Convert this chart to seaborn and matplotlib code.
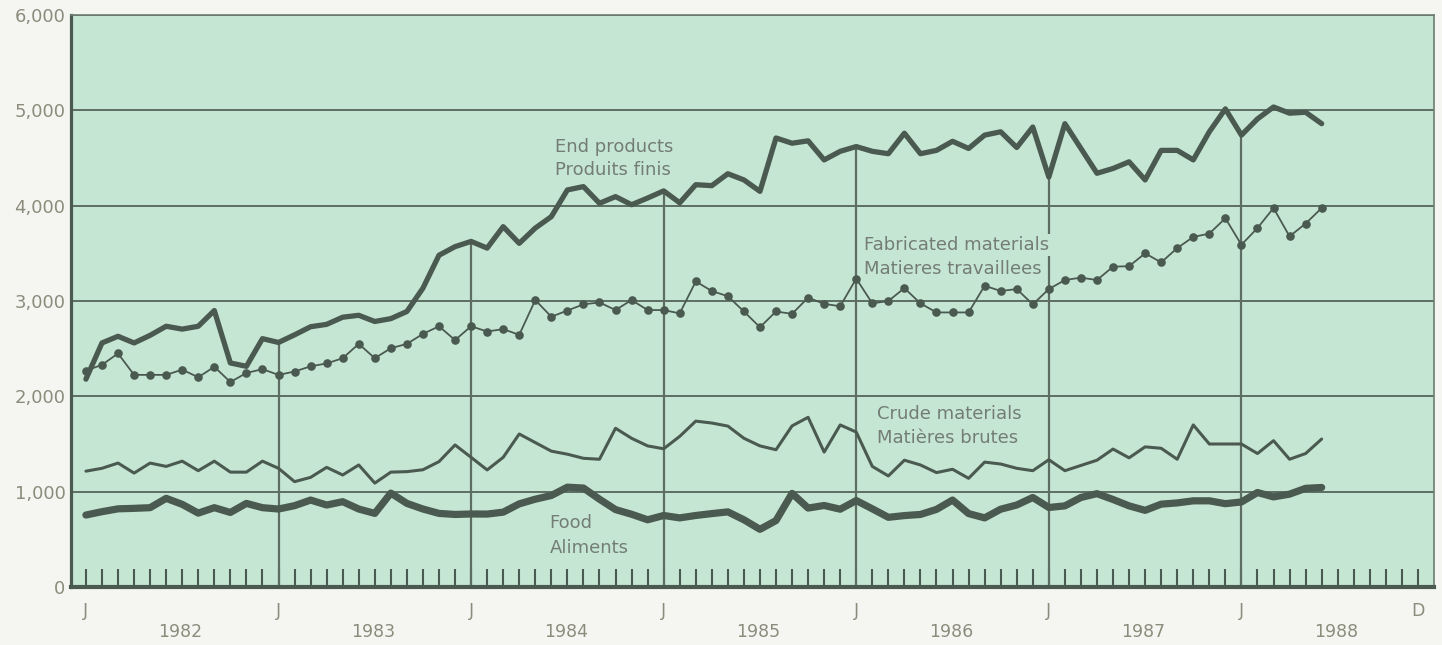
import numpy as np
import pandas as pd
import matplotlib
matplotlib.use("Agg")
import matplotlib.pyplot as plt
import seaborn as sns

# ---------------- data (monthly, Jan 1982 .. Jun 1988) ----------------
end_products = [2180, 2560, 2630, 2560, 2640, 2735, 2705, 2735, 2900, 2350, 2315, 2605,
                2565, 2645, 2730, 2755, 2830, 2850, 2785, 2815, 2890, 3135, 3480, 3570,
                3625, 3555, 3780, 3605, 3765, 3885, 4165, 4200, 4025, 4095, 4010, 4080,
                4155, 4030, 4220, 4210, 4335, 4270, 4150, 4710, 4655, 4680, 4480, 4570,
                4620, 4570, 4545, 4760, 4545, 4580, 4675, 4600, 4740, 4775, 4610, 4825,
                4300, 4860, 4600, 4340, 4390, 4460, 4270, 4580, 4580, 4480, 4775, 5015,
                4740, 4910, 5035, 4970, 4980, 4860]
fabricated = [2270, 2330, 2450, 2225, 2225, 2225, 2280, 2200, 2310, 2150, 2245, 2285,
              2225, 2260, 2315, 2345, 2400, 2550, 2400, 2505, 2550, 2655, 2735, 2590,
              2735, 2680, 2705, 2645, 3010, 2835, 2900, 2965, 2985, 2905, 3010, 2905,
              2905, 2870, 3205, 3105, 3050, 2890, 2725, 2890, 2865, 3035, 2970, 2945,
              3235, 2975, 3000, 3135, 2975, 2880, 2880, 2880, 3160, 3105, 3125, 2965,
              3125, 3220, 3245, 3220, 3360, 3365, 3500, 3405, 3555, 3672, 3707, 3868,
              3590, 3765, 3975, 3678, 3812, 3975]
crude = [1215, 1245, 1300, 1195, 1300, 1265, 1320, 1220, 1320, 1205, 1205, 1320,
         1245, 1105, 1150, 1255, 1175, 1280, 1090, 1205, 1210, 1230, 1315, 1490,
         1360, 1228, 1360, 1605, 1515, 1425, 1393, 1350, 1340, 1665, 1560, 1480,
         1450, 1580, 1740, 1720, 1688, 1560, 1480, 1440, 1690, 1780, 1415, 1700,
         1625, 1265, 1165, 1330, 1280, 1200, 1235, 1140, 1310, 1290, 1245, 1220,
         1335, 1220, 1275, 1330, 1447, 1355, 1470, 1455, 1340, 1700, 1500, 1500,
         1500, 1400, 1535, 1340, 1400, 1552]
food = [755, 790, 820, 825, 832, 930, 867, 775, 832, 782, 877, 832,
        818, 853, 912, 860, 895, 818, 772, 985, 877, 818, 772, 761,
        766, 765, 785, 872, 921, 960, 1047, 1038, 921, 812, 763, 705,
        750, 725, 750, 770, 788, 705, 605, 697, 982, 828, 855, 816,
        907, 820, 731, 749, 761, 814, 912, 770, 725, 816, 860, 939,
        834, 851, 939, 979, 918, 851, 804, 869, 882, 904, 904, 874,
        892, 991, 945, 974, 1035, 1044]

years = ["1982", "1983", "1984", "1985", "1986", "1987", "1988"]
y_ticks = [0, 1000, 2000, 3000, 4000, 5000, 6000]
y_tick_labels = ["0", "1,000", "2,000", "3,000", "4,000", "5,000", "6,000"]
n_axis_months = 84  # Jan 1982 .. Dec 1988
january_lines = [12, 24, 36, 48, 60, 72]

months = np.arange(len(end_products))
df = pd.DataFrame({"month": months, "end": end_products, "fab": fabricated,
                   "crude": crude, "food": food})

# ---------------- style ----------------
sns.set_style("white")
plt.rcParams["font.family"] = ["DejaVu Sans"]

BG = "#c6e6d4"
FIG_BG = "#f5f6f2"
DARK = "#4b5a50"
GRID = "#5d6d62"
TICKLAB = "#8c8c7d"
ANN = "#737d73"

fig = plt.figure(figsize=(14.42, 6.45), dpi=100, facecolor=FIG_BG)
ax = fig.add_axes([71 / 1442, 1 - 587 / 645, (1434 - 71) / 1442, (587 - 15) / 645])
ax.set_facecolor(BG)

# series
sns.lineplot(data=df, x="month", y="food", ax=ax, color=DARK, linewidth=5.2, zorder=4)
sns.lineplot(data=df, x="month", y="crude", ax=ax, color=DARK, linewidth=2.2, zorder=4)
sns.lineplot(data=df, x="month", y="fab", ax=ax, color=DARK, linewidth=1.3,
             marker="o", markersize=6.2, markeredgewidth=0, markerfacecolor=DARK, zorder=4)
sns.lineplot(data=df, x="month", y="end", ax=ax, color=DARK, linewidth=3.8, zorder=4)

# January verticals up to the end-products value
ax.vlines(january_lines, 0, [end_products[i] for i in january_lines],
          color=GRID, linewidth=1.6, zorder=1.5)

# axes limits and grid
ax.set_xlim(-0.93, 84.0)
ax.set_ylim(0, 6000)
ax.set_yticks(y_ticks)
ax.set_yticklabels(y_tick_labels)
ax.yaxis.grid(True, color=GRID, linewidth=1.4)
ax.xaxis.grid(False)
ax.set_axisbelow(True)

xt = np.arange(n_axis_months)
xlabels = ["J" if m % 12 == 0 else "" for m in xt]
xlabels[-1] = "D"
ax.set_xticks(xt)
ax.set_xticklabels(xlabels)
ax.tick_params(axis="x", direction="in", length=13, width=1.5, color=DARK,
               pad=11, labelsize=12.5, labelcolor=TICKLAB, bottom=True)
ax.tick_params(axis="y", length=0, pad=4, labelsize=13, labelcolor=TICKLAB, left=True)

ax.set_xlabel("")
ax.set_ylabel("")

for s in ["left"]:
    ax.spines[s].set_linewidth(2.3)
    ax.spines[s].set_color(DARK)
ax.spines["bottom"].set_linewidth(3.0)
ax.spines["bottom"].set_color(DARK)
for s in ["top", "right"]:
    ax.spines[s].set_visible(True)
    ax.spines[s].set_linewidth(1.2)
    ax.spines[s].set_color("#6d7d72")

# year labels
for k, yr in enumerate(years):
    ax.text(12 * k + 5.9, -0.079, yr, transform=ax.get_xaxis_transform(),
            ha="center", va="center", fontsize=12.5, color=TICKLAB)

# series annotations
ann_kw = dict(ha="left", va="center", fontsize=13, color=ANN, zorder=3)
ax.text(29.2, 4614, "End products", **ann_kw)
ax.text(29.2, 4372, "Produits finis", **ann_kw)
box = dict(facecolor=BG, edgecolor="none", pad=1.5)
ax.text(48.5, 3590, "Fabricated materials", bbox=box, **ann_kw)
ax.text(48.5, 3340, "Matieres travaillees", bbox=box, **ann_kw)
ax.text(49.3, 1814, "Crude materials", **ann_kw)
ax.text(49.3, 1568, "Matières brutes", **ann_kw)
ax.text(28.9, 667, "Food", **ann_kw)
ax.text(28.9, 404, "Aliments", **ann_kw)

fig.savefig("out.png", dpi=100, facecolor=FIG_BG)
